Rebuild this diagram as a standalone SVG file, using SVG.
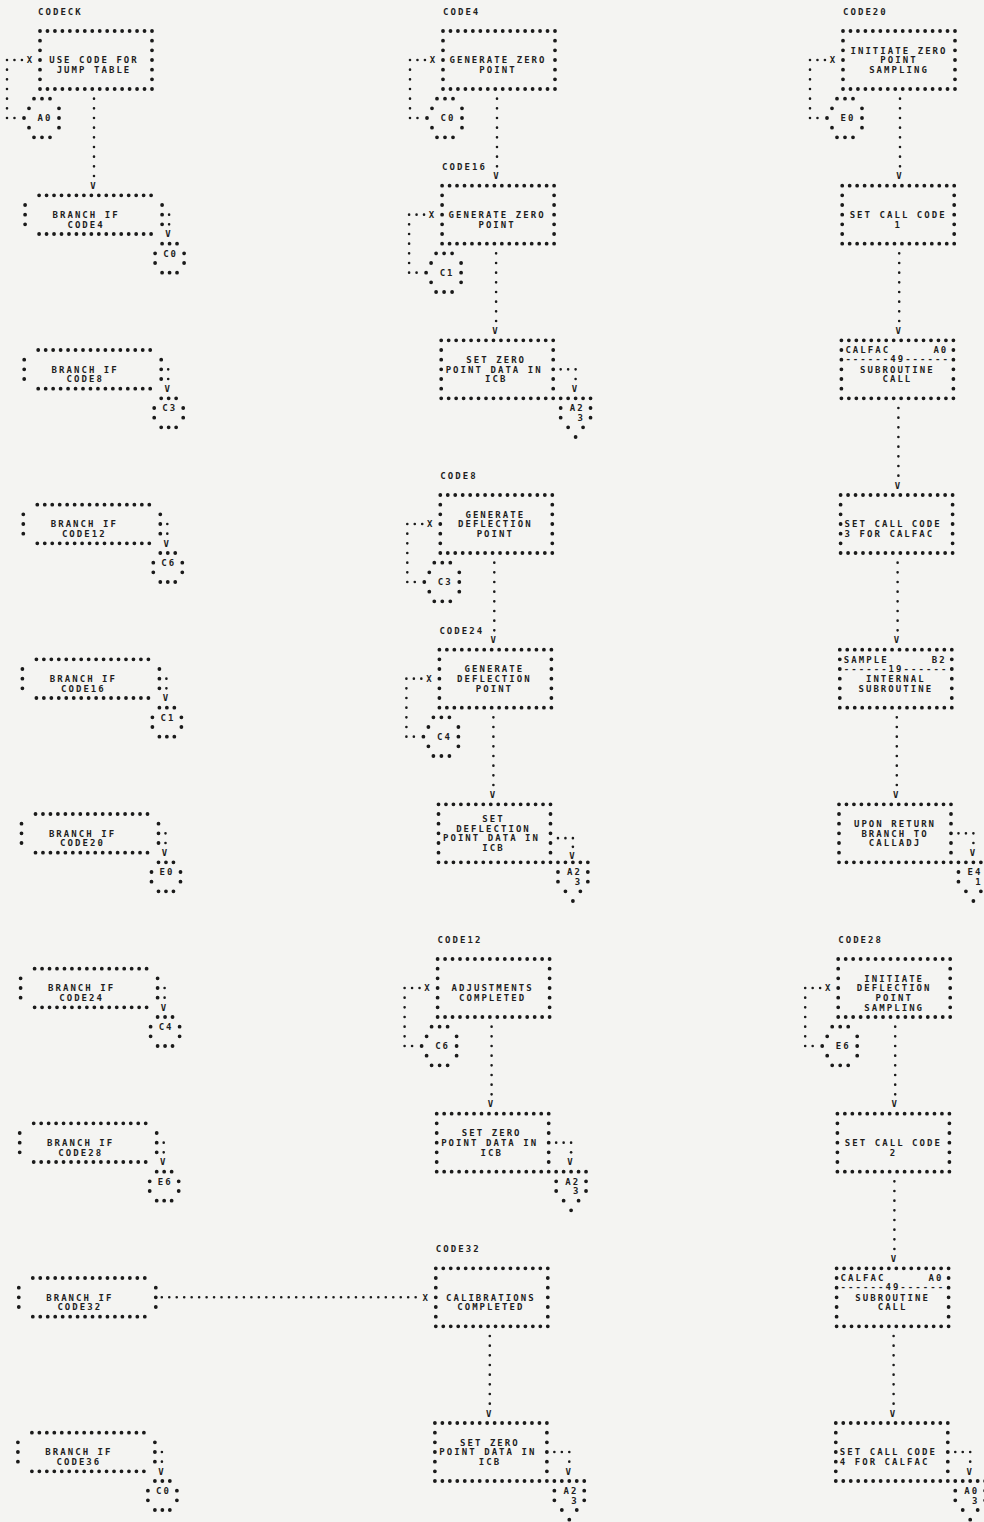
<svg xmlns="http://www.w3.org/2000/svg" width="984" height="1522" viewBox="0 0 984 1522">
<defs>
<style>
.s{fill:none;stroke:#1a1a1a;stroke-width:3.8;stroke-linecap:round}
.sh{stroke-dasharray:0 7.4667}
.sv{stroke-dasharray:0 9.6667}
.c{fill:none;stroke:#1a1a1a;stroke-width:2.6;stroke-linecap:round}
.ch{stroke-dasharray:0 7.4667}
.cv{stroke-dasharray:0 9.6667}
text{font-family:"DejaVu Sans Mono","Liberation Mono",monospace;font-size:9px;font-weight:bold;fill:#1e1e1e;letter-spacing:2.05px}
.m{text-anchor:middle}
</style>
<g id="proc">
<path class="s sh" d="M0 0H112.1M0 58H112.1"/>
<path class="s sv" d="M0 9.667V48.4M112 9.667V48.4"/>
</g>
<g id="dec">
<path class="s sh" d="M0 9.667H112.1M0 48.333H112.1"/>
<path class="s sv" d="M-14 19.333V38.7M123 19.333V38.7"/>
</g>
<g id="c4">
<path class="s sh" d="M123 58H138.1M123 87H138.1"/>
<path class="s sv" d="M116 67.667V77.4M145 67.667V77.4"/>
</g>
<g id="c5">
<path class="s" d="M-6 67.667h0M2 67.667h0M10 67.667h0M-11 77.333h0M19 77.333h0M-16 87h0M19 87h0M-11 96.667h0M19 96.667h0M-6 106.333h0M2 106.333h0M10 106.333h0"/>
</g>
<g id="off">
<path class="s sh" d="M119.47 58H149.4"/>
<path class="s" d="M119.47 67.667h0M149.33 67.667h0M119.47 77.333h0M149.33 77.333h0M126.93 87h0M141.87 87h0M134.4 96.667h0"/>
</g>
<g id="loop">
<path class="c ch" d="M-33 29H-18"/>
<path class="c cv" d="M-33 38.667V87.1"/>
<path class="c" d="M-25.53 87h0"/>
<text class="m" x="-9.5" y="32.3">X</text>
</g>
<g id="down">
<path class="c cv" d="M54 67.667V135.4"/>
<text class="m" x="54" y="148.3">V</text>
</g>
<g id="exit">
<path class="c ch" d="M119.47 29H134.5"/>
<path class="c" d="M134.4 38.667h0"/>
<text class="m" x="134.4" y="51.6">V</text>
</g>
<g id="brx">
<path class="c cv" d="M130 29V38.7"/>
<text class="m" x="130" y="51.6">V</text>
</g>
</defs>
<rect width="984" height="1522" fill="#f4f4f2"/>

<!-- LEFT COLUMN -->
<g id="n-codeck" transform="translate(40,31)">
<text x="-2" y="-16">CODECK</text>
<use href="#proc"/>
<text class="m" x="54" y="32.3">USE CODE FOR</text>
<text class="m" x="54" y="42">JUMP TABLE</text>
</g>
<g id="n-a0-left" transform="translate(40,31)"><use href="#c5"/><text class="m" x="5" y="90.3">A0</text></g>

<g id="n-br-code4" transform="translate(39.1,185.67)"><use href="#dec"/><text class="m" x="47" y="32.3">BRANCH IF</text><text class="m" x="47" y="42">CODE4</text></g>
<g id="n-c0-l1" transform="translate(39.1,185.67)"><use href="#c4"/><text class="m" x="131.5" y="71">C0</text></g>

<g id="n-br-code8" transform="translate(38.2,340.33)"><use href="#dec"/><text class="m" x="47" y="32.3">BRANCH IF</text><text class="m" x="47" y="42">CODE8</text></g>
<g id="n-c3-l2" transform="translate(38.2,340.33)"><use href="#c4"/><text class="m" x="131.5" y="71">C3</text></g>

<g id="n-br-code12" transform="translate(37.3,495)"><use href="#dec"/><text class="m" x="47" y="32.3">BRANCH IF</text><text class="m" x="47" y="42">CODE12</text></g>
<g id="n-c6-l3" transform="translate(37.3,495)"><use href="#c4"/><text class="m" x="131.5" y="71">C6</text></g>

<g id="n-br-code16" transform="translate(36.4,649.67)"><use href="#dec"/><text class="m" x="47" y="32.3">BRANCH IF</text><text class="m" x="47" y="42">CODE16</text></g>
<g id="n-c1-l4" transform="translate(36.4,649.67)"><use href="#c4"/><text class="m" x="131.5" y="71">C1</text></g>

<g id="n-br-code20" transform="translate(35.5,804.33)"><use href="#dec"/><text class="m" x="47" y="32.3">BRANCH IF</text><text class="m" x="47" y="42">CODE20</text></g>
<g id="n-e0-l5" transform="translate(35.5,804.33)"><use href="#c4"/><text class="m" x="131.5" y="71">E0</text></g>

<g id="n-br-code24" transform="translate(34.6,959)"><use href="#dec"/><text class="m" x="47" y="32.3">BRANCH IF</text><text class="m" x="47" y="42">CODE24</text></g>
<g id="n-c4-l6" transform="translate(34.6,959)"><use href="#c4"/><text class="m" x="131.5" y="71">C4</text></g>

<g id="n-br-code28" transform="translate(33.7,1113.67)"><use href="#dec"/><text class="m" x="47" y="32.3">BRANCH IF</text><text class="m" x="47" y="42">CODE28</text></g>
<g id="n-e6-l7" transform="translate(33.7,1113.67)"><use href="#c4"/><text class="m" x="131.5" y="71">E6</text></g>

<g id="n-br-code32" transform="translate(32.8,1268.33)"><use href="#dec"/><text class="m" x="47" y="32.3">BRANCH IF</text><text class="m" x="47" y="42">CODE32</text></g>

<g id="n-br-code36" transform="translate(31.9,1423)"><use href="#dec"/><text class="m" x="47" y="32.3">BRANCH IF</text><text class="m" x="47" y="42">CODE36</text></g>
<g id="n-c0-l9" transform="translate(31.9,1423)"><use href="#c4"/><text class="m" x="131.5" y="71">C0</text></g>

<!-- MIDDLE COLUMN -->
<g id="n-code4" transform="translate(443,31)">
<text x="0" y="-16">CODE4</text>
<use href="#proc"/>
<text class="m" x="55" y="32.3">GENERATE ZERO</text>
<text class="m" x="55" y="42">POINT</text>
</g>
<g id="n-c0-m0" transform="translate(443,31)"><use href="#c5"/><text class="m" x="5" y="90.3">C0</text></g>

<g id="n-code16" transform="translate(442.1,185.67)">
<text x="0" y="-16">CODE16</text>
<use href="#proc"/>
<text class="m" x="55" y="32.3">GENERATE ZERO</text>
<text class="m" x="55" y="42">POINT</text>
</g>
<g id="n-c1-m1" transform="translate(442.1,185.67)"><use href="#c5"/><text class="m" x="5" y="90.3">C1</text></g>

<g id="n-setzero-m2" transform="translate(441.2,340.33)">
<use href="#proc"/>
<text class="m" x="55" y="22.6">SET ZERO</text>
<text class="m" x="53" y="32.3">POINT DATA IN</text>
<text class="m" x="55" y="42">ICB</text>
</g>
<g id="n-a2-m2" transform="translate(441.2,340.33)"><use href="#off"/><text class="m" x="136" y="71">A2</text><text class="m" x="140" y="80.6">3</text></g>

<g id="n-code8" transform="translate(440.3,495)">
<text x="0" y="-16">CODE8</text>
<use href="#proc"/>
<text class="m" x="55" y="22.6">GENERATE</text>
<text class="m" x="55" y="32.3">DEFLECTION</text>
<text class="m" x="55" y="42">POINT</text>
</g>
<g id="n-c3-m3" transform="translate(440.3,495)"><use href="#c5"/><text class="m" x="5" y="90.3">C3</text></g>

<g id="n-code24" transform="translate(439.4,649.67)">
<text x="0" y="-16">CODE24</text>
<use href="#proc"/>
<text class="m" x="55" y="22.6">GENERATE</text>
<text class="m" x="55" y="32.3">DEFLECTION</text>
<text class="m" x="55" y="42">POINT</text>
</g>
<g id="n-c4-m4" transform="translate(439.4,649.67)"><use href="#c5"/><text class="m" x="5" y="90.3">C4</text></g>

<g id="n-setdefl-m5" transform="translate(438.5,804.33)">
<use href="#proc"/>
<text class="m" x="55" y="17.8">SET</text>
<text class="m" x="55" y="27.5">DEFLECTION</text>
<text class="m" x="53" y="37.1">POINT DATA IN</text>
<text class="m" x="55" y="46.8">ICB</text>
</g>
<g id="n-a2-m5" transform="translate(438.5,804.33)"><use href="#off"/><text class="m" x="136" y="71">A2</text><text class="m" x="140" y="80.6">3</text></g>

<g id="n-code12" transform="translate(437.6,959)">
<text x="0" y="-16">CODE12</text>
<use href="#proc"/>
<text class="m" x="55" y="32.3">ADJUSTMENTS</text>
<text class="m" x="55" y="42">COMPLETED</text>
</g>
<g id="n-c6-m6" transform="translate(437.6,959)"><use href="#c5"/><text class="m" x="5" y="90.3">C6</text></g>

<g id="n-setzero-m7" transform="translate(436.7,1113.67)">
<use href="#proc"/>
<text class="m" x="55" y="22.6">SET ZERO</text>
<text class="m" x="53" y="32.3">POINT DATA IN</text>
<text class="m" x="55" y="42">ICB</text>
</g>
<g id="n-a2-m7" transform="translate(436.7,1113.67)"><use href="#off"/><text class="m" x="136" y="71">A2</text><text class="m" x="140" y="80.6">3</text></g>

<g id="n-code32" transform="translate(435.8,1268.33)">
<text x="0" y="-16">CODE32</text>
<use href="#proc"/>
<text class="m" x="55" y="32.3">CALIBRATIONS</text>
<text class="m" x="55" y="42">COMPLETED</text>
</g>

<g id="n-setzero-m9" transform="translate(434.9,1423)">
<use href="#proc"/>
<text class="m" x="55" y="22.6">SET ZERO</text>
<text class="m" x="53" y="32.3">POINT DATA IN</text>
<text class="m" x="55" y="42">ICB</text>
</g>
<g id="n-a2-m9" transform="translate(434.9,1423)"><use href="#off"/><text class="m" x="136" y="71">A2</text><text class="m" x="140" y="80.6">3</text></g>

<!-- RIGHT COLUMN -->
<g id="n-code20" transform="translate(843,31)">
<text x="0" y="-16">CODE20</text>
<use href="#proc"/>
<text class="m" x="56" y="22.6">INITIATE ZERO</text>
<text class="m" x="56" y="32.3">POINT</text>
<text class="m" x="56" y="42">SAMPLING</text>
</g>
<g id="n-e0-r0" transform="translate(843,31)"><use href="#c5"/><text class="m" x="5" y="90.3">E0</text></g>

<g id="n-setcall1" transform="translate(842.2,185.67)">
<use href="#proc"/>
<text class="m" x="56" y="32.3">SET CALL CODE</text>
<text class="m" x="56" y="42">1</text>
</g>

<g id="n-calfac-r2" transform="translate(841.4,340.33)">
<use href="#proc"/>
<text x="4" y="13">CALFAC</text>
<text x="92" y="13">A0</text>
<text x="4" y="22">------49------</text>
<text class="m" x="56" y="32.3">SUBROUTINE</text>
<text class="m" x="56" y="42">CALL</text>
</g>

<g id="n-setcall3" transform="translate(840.6,495)">
<use href="#proc"/>
<text x="4" y="32.3">SET CALL CODE</text>
<text x="4" y="42">3 FOR CALFAC</text>
</g>

<g id="n-sample" transform="translate(839.8,649.67)">
<use href="#proc"/>
<text x="4" y="13">SAMPLE</text>
<text x="92" y="13">B2</text>
<text x="4" y="22">------19------</text>
<text class="m" x="56" y="32.3">INTERNAL</text>
<text class="m" x="56" y="42">SUBROUTINE</text>
</g>

<g id="n-uponreturn" transform="translate(839,804.33)">
<use href="#proc"/>
<text class="m" x="56" y="22.6">UPON RETURN</text>
<text class="m" x="56" y="32.3">BRANCH TO</text>
<text class="m" x="56" y="42">CALLADJ</text>
</g>
<g id="n-e4-r5" transform="translate(839,804.33)"><use href="#off"/><text class="m" x="136" y="71">E4</text><text class="m" x="140" y="80.6">1</text></g>

<g id="n-code28" transform="translate(838.2,959)">
<text x="0" y="-16">CODE28</text>
<use href="#proc"/>
<text class="m" x="56" y="22.6">INITIATE</text>
<text class="m" x="56" y="32.3">DEFLECTION</text>
<text class="m" x="56" y="42">POINT</text>
<text class="m" x="56" y="51.6">SAMPLING</text>
</g>
<g id="n-e6-r6" transform="translate(838.2,959)"><use href="#c5"/><text class="m" x="5" y="90.3">E6</text></g>

<g id="n-setcall2" transform="translate(837.4,1113.67)">
<use href="#proc"/>
<text class="m" x="56" y="32.3">SET CALL CODE</text>
<text class="m" x="56" y="42">2</text>
</g>

<g id="n-calfac-r8" transform="translate(836.6,1268.33)">
<use href="#proc"/>
<text x="4" y="13">CALFAC</text>
<text x="92" y="13">A0</text>
<text x="4" y="22">------49------</text>
<text class="m" x="56" y="32.3">SUBROUTINE</text>
<text class="m" x="56" y="42">CALL</text>
</g>

<g id="n-setcall4" transform="translate(835.8,1423)">
<use href="#proc"/>
<text x="4" y="32.3">SET CALL CODE</text>
<text x="4" y="42">4 FOR CALFAC</text>
</g>
<g id="n-a0-r9" transform="translate(835.8,1423)"><use href="#off"/><text class="m" x="136" y="71">A0</text><text class="m" x="140" y="80.6">3</text></g>

<!-- CONNECTORS -->
<g id="connectors">
<g transform="translate(40,31)">
<use href="#loop"/>
<path class="c cv" d="M54 67.667V145.1"/>
<text class="m" x="54" y="158">V</text>
</g>
<use href="#brx" x="39.1" y="185.67"/>
<use href="#brx" x="38.2" y="340.33"/>
<use href="#brx" x="37.3" y="495"/>
<use href="#brx" x="36.4" y="649.67"/>
<use href="#brx" x="35.5" y="804.33"/>
<use href="#brx" x="34.6" y="959"/>
<use href="#brx" x="33.7" y="1113.67"/>
<use href="#brx" x="31.9" y="1423"/>
<path class="c ch" d="M161.8 1297.3H416"/>
<text class="m" x="426.3" y="1300.6">X</text>

<use href="#loop" x="443" y="31"/>
<use href="#down" x="443" y="31"/>
<use href="#loop" x="442.1" y="185.67"/>
<use href="#down" x="442.1" y="185.67"/>
<use href="#exit" x="441.2" y="340.33"/>
<use href="#loop" x="440.3" y="495"/>
<use href="#down" x="440.3" y="495"/>
<use href="#loop" x="439.4" y="649.67"/>
<use href="#down" x="439.4" y="649.67"/>
<g transform="translate(438.5,804.33)">
<path class="c ch" d="M119.47 33.8H134.5"/>
<path class="c" d="M134.4 42.5h0"/>
<text class="m" x="134.4" y="54.2">V</text>
</g>
<use href="#loop" x="437.6" y="959"/>
<use href="#down" x="437.6" y="959"/>
<use href="#exit" x="436.7" y="1113.67"/>
<use href="#down" x="435.8" y="1268.33"/>
<use href="#exit" x="434.9" y="1423"/>

<use href="#loop" x="843" y="31"/>
<use href="#down" x="846" y="31"/>
<use href="#down" x="845.2" y="185.67"/>
<use href="#down" x="844.4" y="340.33"/>
<use href="#down" x="843.6" y="495"/>
<use href="#down" x="842.8" y="649.67"/>
<use href="#exit" x="839" y="804.33"/>
<use href="#loop" x="838.2" y="959"/>
<use href="#down" x="841.2" y="959"/>
<use href="#down" x="840.4" y="1113.67"/>
<use href="#down" x="839.6" y="1268.33"/>
<use href="#exit" x="835.8" y="1423"/>
</g>
</svg>
